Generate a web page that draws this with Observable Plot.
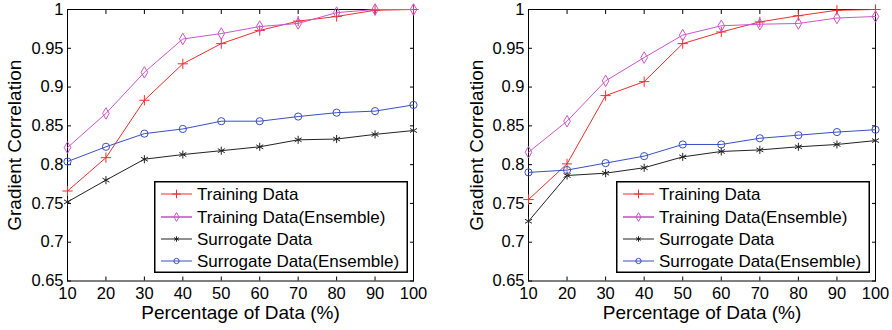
<!DOCTYPE html>
<html><head><meta charset="utf-8">
<script src="https://cdn.jsdelivr.net/npm/d3@7"></script>
<script src="https://cdn.jsdelivr.net/npm/@observablehq/plot@0.6"></script>
<style>
html,body{margin:0;padding:0;background:#fff;}
#wrap{display:flex;width:892px;height:330px;overflow:hidden;}
.panel{position:relative;width:446px;height:330px;}
.panel svg{display:block;}
.legend{position:absolute;}
</style></head><body><div id="wrap"></div>
<script>
const percentages = [10, 20, 30, 40, 50, 60, 70, 80, 90, 100];
const seriesNames = ["Training Data", "Training Data(Ensemble)", "Surrogate Data", "Surrogate Data(Ensemble)"];

const leftTraining          = [0.766, 0.809, 0.883, 0.930, 0.956, 0.973, 0.985, 0.991, 0.999, 1.000];
const leftTrainingEnsemble  = [0.822, 0.866, 0.919, 0.962, 0.969, 0.978, 0.982, 0.996, 1.000, 1.000];
const leftSurrogate         = [0.752, 0.780, 0.807, 0.813, 0.818, 0.823, 0.832, 0.833, 0.839, 0.844];
const leftSurrogateEnsemble = [0.804, 0.823, 0.840, 0.846, 0.856, 0.856, 0.862, 0.867, 0.869, 0.877];

const rightTraining          = [0.755, 0.801, 0.889, 0.907, 0.956, 0.971, 0.984, 0.992, 0.999, 1.000];
const rightTrainingEnsemble  = [0.816, 0.856, 0.908, 0.938, 0.967, 0.979, 0.981, 0.982, 0.989, 0.991];
const rightSurrogate         = [0.727, 0.786, 0.789, 0.796, 0.810, 0.817, 0.819, 0.823, 0.826, 0.831];
const rightSurrogateEnsemble = [0.790, 0.793, 0.802, 0.811, 0.826, 0.826, 0.834, 0.838, 0.842, 0.845];

const xTicks = [10, 20, 30, 40, 50, 60, 70, 80, 90, 100];
const yTicks = [0.65, 0.7, 0.75, 0.8, 0.85, 0.9, 0.95, 1];
const yTickLabels = ["0.65", "0.7", "0.75", "0.8", "0.85", "0.9", "0.95", "1"];
const xTitle = "Percentage of Data (%)";
const yTitle = "Gradient Correlation";

const FONT = '"Liberation Sans", Arial, Helvetica, sans-serif';
const styles = [
  {color: "#ee2f2a", symbol: "plus", r: 3.4, lsym: d3.symbolPlus, lsize: 26},
  {color: "#cc55cc", symbol: "diamond", r: 3.5, lsym: d3.symbolDiamond, lsize: 22},
  {color: "#222222", symbol: "asterisk", r: 3.8, lsym: d3.symbolAsterisk, lsize: 20},
  {color: "#3a4fc4", symbol: "circle", r: 3.6, lsym: d3.symbolCircle, lsize: 22}
];

function yLabel(d) {
  const i = yTicks.findIndex(t => Math.abs(t - d) < 1e-9);
  return i >= 0 ? yTickLabels[i] : "";
}

function makePanel(seriesValues, ml, mr, legendLeft) {
  const marks = [
    Plot.frame({stroke: "black", strokeWidth: 1}),
    Plot.axisX({ticks: xTicks, tickSize: -4, tickPadding: 10.5, fontSize: 16.5, tickFormat: d => String(d), label: null, fill: "black"}),
    Plot.axisX({anchor: "top", ticks: xTicks, tickSize: -4, tickFormat: () => "", label: null}),
    Plot.axisY({ticks: yTicks, tickSize: -4, tickPadding: 8, fontSize: 16.5, tickFormat: yLabel, label: null, fill: "black"}),
    Plot.axisY({anchor: "right", ticks: yTicks, tickSize: -4, tickFormat: () => "", label: null})
  ];
  seriesValues.forEach((vals, s) => {
    const rows = vals.map((v, i) => ({x: percentages[i], y: v, s: seriesNames[s]}));
    const st = styles[s];
    marks.push(Plot.line(rows, {x: "x", y: "y", stroke: st.color, strokeWidth: 1}));
    marks.push(Plot.dot(rows, {x: "x", y: "y", stroke: st.color, fill: "none", symbol: st.symbol, r: st.r, strokeWidth: 1}));
  });
  marks.push(Plot.text([xTitle], {text: d => d, frameAnchor: "bottom", dy: 32, fontSize: 19, fill: "black", textAnchor: "middle", lineAnchor: "middle"}));
  marks.push(Plot.text([yTitle], {text: d => d, frameAnchor: "left", dx: ml === 67 ? -53 : -52, rotate: -90, fontSize: 19, fill: "black", textAnchor: "middle", lineAnchor: "middle"}));

  const chart = Plot.plot({
    width: 446, height: 330,
    marginTop: 9, marginBottom: 49.5, marginLeft: ml, marginRight: mr,
    style: {fontFamily: FONT, background: "white", color: "black", overflow: "visible"},
    x: {type: "linear", domain: [10, 100]},
    y: {type: "linear", domain: [0.65, 1]},
    marks
  });

  const div = document.createElement("div");
  div.className = "panel";
  div.appendChild(chart);

  // legend
  const lw = 254, lh = 92;
  const leg = d3.create("svg").attr("class", "legend").attr("width", lw).attr("height", lh)
    .style("left", legendLeft + "px").style("top", "181px");
  leg.append("rect").attr("x", 0.75).attr("y", 0.75).attr("width", lw - 1.5).attr("height", lh - 1.5)
    .attr("fill", "white").attr("stroke", "black").attr("stroke-width", 1.5);
  const rowY = [13, 36, 58, 80];
  seriesNames.forEach((name, i) => {
    const st = styles[i];
    const g = leg.append("g").attr("transform", `translate(0,${rowY[i]})`);
    g.append("line").attr("x1", 7).attr("x2", 38).attr("y1", 0).attr("y2", 0)
      .attr("stroke", st.color).attr("stroke-width", i === 1 ? 1.6 : 1);
    g.append("path").attr("d", d3.symbol(st.lsym, st.lsize)()).attr("transform", "translate(22.5,0)")
      .attr("fill", "none").attr("stroke", st.color).attr("stroke-width", 1);
    g.append("text").attr("x", 43).attr("y", 0).attr("dy", "0.35em")
      .attr("font-family", FONT).attr("font-size", 17).attr("fill", "black").text(name);
  });
  div.appendChild(leg.node());
  return div;
}

const wrap = document.getElementById("wrap");
wrap.appendChild(makePanel([leftTraining, leftTrainingEnsemble, leftSurrogate, leftSurrogateEnsemble], 67, 33, 154));
wrap.appendChild(makePanel([rightTraining, rightTrainingEnsemble, rightSurrogate, rightSurrogateEnsemble], 82, 17, 170));
</script></body></html>
